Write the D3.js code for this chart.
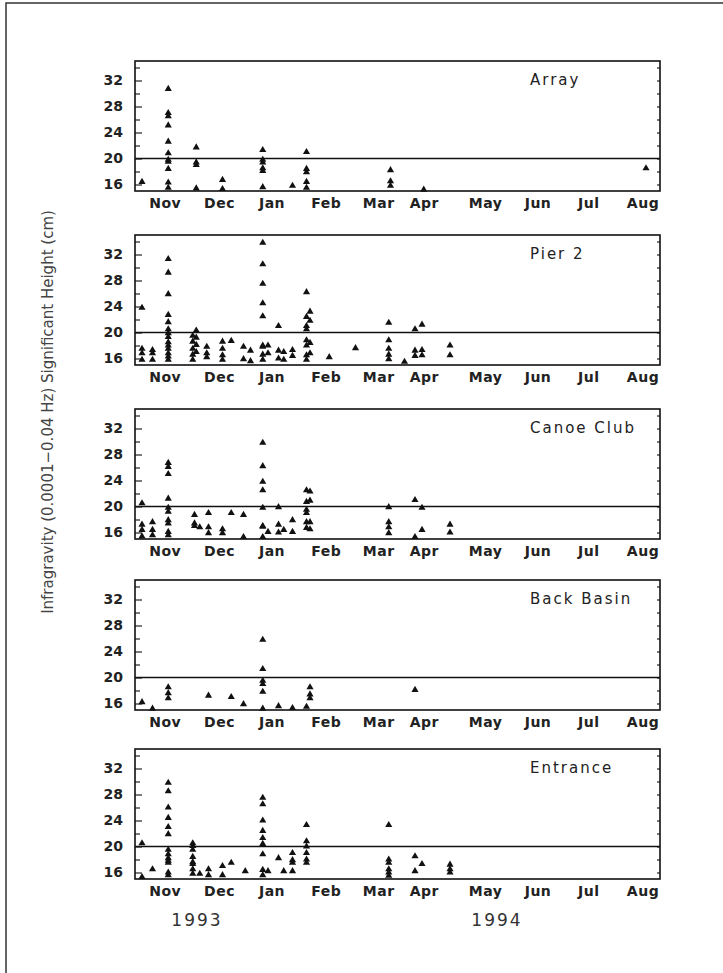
<!DOCTYPE html>
<html>
<head>
<meta charset="utf-8">
<script src="https://cdn.jsdelivr.net/npm/d3@7"></script>
<style>
  body { margin: 0; background: #fff; }
  svg { display: block; }
  .month text { font-family: "DejaVu Sans", sans-serif; font-size: 14px; font-weight: bold; fill: #222; letter-spacing: 0.5px; }
  .yax text { font-family: "DejaVu Sans", sans-serif; font-size: 14px; font-weight: bold; fill: #222; }
</style>
</head>
<body>
<div id="chart"></div>
<script>
const stations = ['Array', 'Pier 2', 'Canoe Club', 'Back Basin', 'Entrance'];

const arrayObs = [
  ['1993-11-02', [16.4]],
  ['1993-11-17', [30.7, 27.0, 26.5, 25.1, 22.6, 20.8, 19.8, 19.5, 18.4, 16.3, 15.5]],
  ['1993-12-03', [21.7, 19.4, 19.0, 15.4]],
  ['1993-12-18', [16.7, 15.3]],
  ['1994-01-10', [21.3, 19.8, 19.4, 18.5, 18.1, 15.6]],
  ['1994-01-27', [15.8]],
  ['1994-02-04', [21.0, 18.4, 17.9, 16.4, 15.5]],
  ['1994-03-24', [18.2, 16.5, 15.8]],
  ['1994-04-12', [15.2]],
  ['1994-08-17', [18.5]]
];

const pierObs = [
  ['1993-11-02', [23.8, 17.5, 16.8, 15.8]],
  ['1993-11-08', [17.3, 16.8, 15.8]],
  ['1993-11-17', [31.3, 29.2, 25.9, 22.7, 21.6, 20.5, 19.9, 19.3, 18.5, 18.0, 17.5, 16.8, 16.3, 15.8]],
  ['1993-12-01', [19.5, 18.6, 17.5, 16.6, 15.8]],
  ['1993-12-03', [20.3, 19.2, 18.1, 17.0]],
  ['1993-12-09', [17.8, 16.8, 16.2]],
  ['1993-12-18', [18.6, 17.5, 16.5, 15.8]],
  ['1993-12-23', [18.7]],
  ['1993-12-30', [17.8, 15.9]],
  ['1994-01-03', [17.2, 15.6]],
  ['1994-01-10', [33.8, 30.5, 27.5, 24.5, 22.5, 18.0, 17.8, 16.6, 15.8]],
  ['1994-01-13', [18.0, 16.8]],
  ['1994-01-19', [21.0, 17.2, 16.0]],
  ['1994-01-22', [17.0, 15.8]],
  ['1994-01-27', [17.3, 16.4]],
  ['1994-02-04', [26.2, 22.4, 21.0, 20.5, 18.8, 18.0, 16.5, 15.8]],
  ['1994-02-06', [23.2, 21.8, 18.4, 16.8]],
  ['1994-02-17', [16.2]],
  ['1994-03-04', [17.6]],
  ['1994-03-23', [21.5, 18.8, 17.5, 16.6, 15.9]],
  ['1994-04-01', [15.5]],
  ['1994-04-07', [20.5, 17.2, 16.4]],
  ['1994-04-11', [21.2, 17.3, 16.5]],
  ['1994-04-27', [18.0, 16.5]]
];

const canoeObs = [
  ['1993-11-02', [20.5, 17.2, 16.4, 15.4]],
  ['1993-11-08', [17.6, 16.4, 15.6]],
  ['1993-11-17', [26.7, 26.1, 25.0, 21.2, 19.8, 19.2, 17.9, 17.4, 16.1, 15.6]],
  ['1993-12-02', [18.7, 17.4, 17.0]],
  ['1993-12-05', [16.8]],
  ['1993-12-10', [19.0, 16.8, 15.9]],
  ['1993-12-18', [16.5, 15.9]],
  ['1993-12-23', [19.0]],
  ['1993-12-30', [18.7, 15.3]],
  ['1994-01-10', [29.8, 26.2, 23.8, 22.5, 19.8, 17.0, 16.9, 15.3]],
  ['1994-01-13', [16.1]],
  ['1994-01-19', [19.9, 17.2, 16.0]],
  ['1994-01-22', [16.4]],
  ['1994-01-27', [17.9, 16.1]],
  ['1994-02-04', [22.5, 20.7, 19.5, 19.0, 17.6, 16.7]],
  ['1994-02-06', [22.3, 20.9, 17.6, 16.5]],
  ['1994-03-23', [19.9, 17.6, 16.8, 15.9]],
  ['1994-04-07', [21.0, 15.3]],
  ['1994-04-11', [19.8, 16.4]],
  ['1994-04-27', [17.2, 16.0]]
];

const basinObs = [
  ['1993-11-02', [16.2]],
  ['1993-11-08', [15.2]],
  ['1993-11-17', [18.5, 17.6, 16.8]],
  ['1993-12-10', [17.2]],
  ['1993-12-23', [17.0]],
  ['1993-12-30', [15.9]],
  ['1994-01-10', [25.8, 21.3, 19.5, 19.0, 17.8, 15.2]],
  ['1994-01-19', [15.6]],
  ['1994-01-27', [15.3]],
  ['1994-02-04', [15.5]],
  ['1994-02-06', [18.5, 17.4, 16.8]],
  ['1994-04-07', [18.1]]
];

const entranceObs = [
  ['1993-11-02', [20.5, 15.3]],
  ['1993-11-08', [16.5]],
  ['1993-11-17', [29.8, 28.5, 26.0, 24.4, 23.0, 21.9, 19.5, 18.8, 18.2, 17.8, 17.5, 16.0, 15.6]],
  ['1993-12-01', [20.5, 20.1, 19.5, 18.4, 17.6, 17.3, 16.5, 15.8]],
  ['1993-12-05', [15.8]],
  ['1993-12-10', [16.5, 15.6]],
  ['1993-12-18', [17.0, 15.6]],
  ['1993-12-23', [17.5]],
  ['1993-12-31', [16.2]],
  ['1994-01-10', [27.5, 26.5, 24.0, 22.4, 21.3, 20.4, 18.8, 16.4, 15.6]],
  ['1994-01-13', [16.2]],
  ['1994-01-19', [18.2]],
  ['1994-01-22', [16.2]],
  ['1994-01-27', [19.0, 17.9, 17.5, 16.2]],
  ['1994-02-04', [23.3, 20.8, 20.0, 19.0, 18.0, 17.5]],
  ['1994-03-23', [23.3, 18.0, 17.5, 16.5, 16.0, 15.5]],
  ['1994-04-07', [18.5, 16.2]],
  ['1994-04-11', [17.3]],
  ['1994-04-27', [17.2, 16.5, 16.0]]
];

const months = ['Nov', 'Dec', 'Jan', 'Feb', 'Mar', 'Apr', 'May', 'Jun', 'Jul', 'Aug'];
const monthDates = ['1993-11-15', '1993-12-16', '1994-01-15', '1994-02-15', '1994-03-17',
                    '1994-04-12', '1994-05-17', '1994-06-16', '1994-07-15', '1994-08-15'];
const yMajor = [16, 20, 24, 28, 32];
const yMinor = [18, 22, 26, 30, 34];
const threshold = 20;
const years = ['1993', '1994'];

// --- layout ---
const W = 723, H = 973;
const left = 135, right = 660, panelH = 130;
const panelTops = [61, 235, 409, 580, 749];

const parse = d3.timeParse('%Y-%m-%d');
const series = [arrayObs, pierObs, canoeObs, basinObs, entranceObs];

const svg = d3.select('#chart').append('svg')
  .attr('width', W).attr('height', H);

// page frame
svg.append('path')
  .attr('d', `M6,${H}V3H${W}`)
  .attr('fill', 'none').attr('stroke', '#333').attr('stroke-width', 1.5);

const x = d3.scaleTime()
  .domain([parse('1993-10-29'), parse('1994-08-25')])
  .range([left, right]);

const tri = d3.symbol().type(d3.symbolTriangle).size(22);

stations.forEach((name, i) => {
  const top = panelTops[i];
  const y = d3.scaleLinear().domain([15, 35]).range([top + panelH, top]);
  const g = svg.append('g');

  // minor + major ticks, inward
  g.append('g').attr('class', 'yax')
    .attr('transform', `translate(${left},0)`)
    .call(d3.axisLeft(y).tickValues(yMinor).tickSize(-5).tickFormat(''))
    .call(a => a.select('.domain').remove());
  g.append('g').attr('class', 'yax')
    .attr('transform', `translate(${left},0)`)
    .call(d3.axisLeft(y).tickValues(yMajor).tickSize(-7).tickPadding(12))
    .call(a => a.select('.domain').remove());
  g.append('g')
    .attr('transform', `translate(${right},0)`)
    .call(d3.axisRight(y).tickValues(yMajor.concat(yMinor)).tickSize(-3).tickFormat(''))
    .call(a => a.select('.domain').remove());
  g.selectAll('.tick line').attr('stroke', '#222').attr('stroke-width', 1.2);

  // month labels
  g.append('g').attr('class', 'month')
    .attr('transform', `translate(0,${top + panelH})`)
    .call(d3.axisBottom(x).tickValues(monthDates.map(parse)).tickSize(0).tickPadding(7)
      .tickFormat((d, j) => months[j]))
    .call(a => a.select('.domain').remove());

  // 20 cm reference line
  g.append('line')
    .attr('x1', left).attr('x2', right)
    .attr('y1', y(threshold)).attr('y2', y(threshold))
    .attr('stroke', '#111').attr('stroke-width', 1.6);

  // frame
  g.append('rect')
    .attr('x', left).attr('y', top)
    .attr('width', right - left).attr('height', panelH)
    .attr('fill', 'none').attr('stroke', '#111').attr('stroke-width', 1.6);

  g.append('text')
    .attr('x', 530).attr('y', top + 24)
    .attr('font-family', '"DejaVu Sans", sans-serif')
    .attr('font-size', 15).attr('letter-spacing', 2)
    .attr('fill', '#222')
    .text(name);

  const pts = series[i].flatMap(([d, vals]) => vals.map(v => ({ date: parse(d), v })));
  g.selectAll('path.pt').data(pts).enter().append('path')
    .attr('class', 'pt')
    .attr('d', tri)
    .attr('transform', d => `translate(${x(d.date)},${y(d.v)})`)
    .attr('fill', '#111');
});

// year labels
const yearX = [197, 497];
years.forEach((t, i) => {
  svg.append('text')
    .attr('x', yearX[i]).attr('y', 926)
    .attr('text-anchor', 'middle')
    .attr('font-family', '"DejaVu Sans", sans-serif')
    .attr('font-size', 17).attr('letter-spacing', 2).attr('fill', '#333')
    .text(t);
});

// y axis title
svg.append('text')
  .attr('transform', 'translate(53,412) rotate(-90)')
  .attr('text-anchor', 'middle')
  .attr('font-family', '"DejaVu Sans", sans-serif')
  .attr('font-size', 15).attr('fill', '#444')
  .text('Infragravity (0.0001\u22120.04 Hz) Significant Height (cm)');
</script>
</body>
</html>
